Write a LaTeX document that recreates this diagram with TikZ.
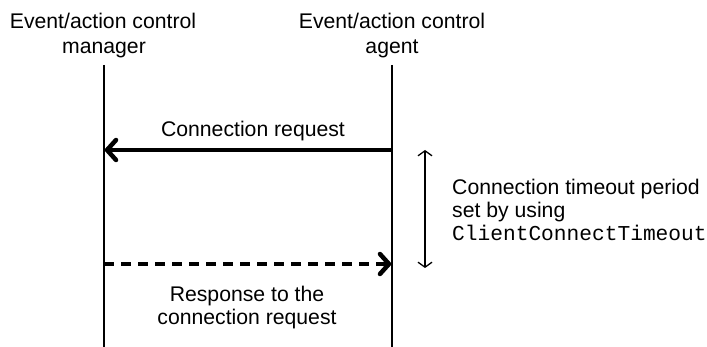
\documentclass[tikz,border=0pt]{standalone}
\usepackage{fontspec}
\setmainfont{Liberation Sans}
\setmonofont{Liberation Mono}
\usetikzlibrary{arrows.meta}
\begin{document}
\begin{tikzpicture}[x=1pt,y=-1pt,
  lbl/.style={inner sep=0pt,font=\fontsize{21.2}{25}\selectfont,align=center},
  life/.style={line width=1.5pt},
  msg/.style={line width=4.5pt,-{Straight Barb[length=9pt,width=20pt,line cap=round]}},
  span/.style={line width=1.3pt,{Straight Barb[length=5pt,width=14pt]}-{Straight Barb[length=5pt,width=14pt]}}]
\useasboundingbox (0,0) rectangle (707,347);
\node[lbl,anchor=base] (mgrA) at (103,29) {Event/action control};
\node[lbl,anchor=base] (mgrB) at (104,54) {manager};
\node[lbl,anchor=base] (agtA) at (392,29) {Event/action control};
\node[lbl,anchor=base] (agtB) at (392,54) {agent};
\coordinate (mtop) at (104,65);
\coordinate (mbot) at (104,347);
\coordinate (atop) at (392,65);
\coordinate (abot) at (392,347);
\draw[life] (mtop) -- (mbot);
\draw[life] (atop) -- (abot);
\coordinate (r1s) at (392,150);
\coordinate (r1e) at (104,150);
\draw[msg] (r1s) -- (r1e);
\node[lbl,anchor=base] (reqlbl) at (253,137) {Connection request};
\coordinate (r2s) at (104,264);
\coordinate (r2e) at (392,264);
\draw[msg,dash pattern=on 10pt off 7pt] (r2s) -- (r2e);
\node[lbl,anchor=base] (resA) at (247,302) {Response to the};
\node[lbl,anchor=base] (resB) at (247,325) {connection request};
\coordinate (t1) at (425,150);
\coordinate (t2) at (425,268);
\draw[span] (t1) -- (t2);
\node[lbl,anchor=base west] (toA) at (452,195) {Connection timeout period};
\node[lbl,anchor=base west] (toB) at (452,218) {set by using};
\node[lbl,anchor=base west] (toC) at (452,241) {\ttfamily ClientConnectTimeout};
\end{tikzpicture}
\end{document}
